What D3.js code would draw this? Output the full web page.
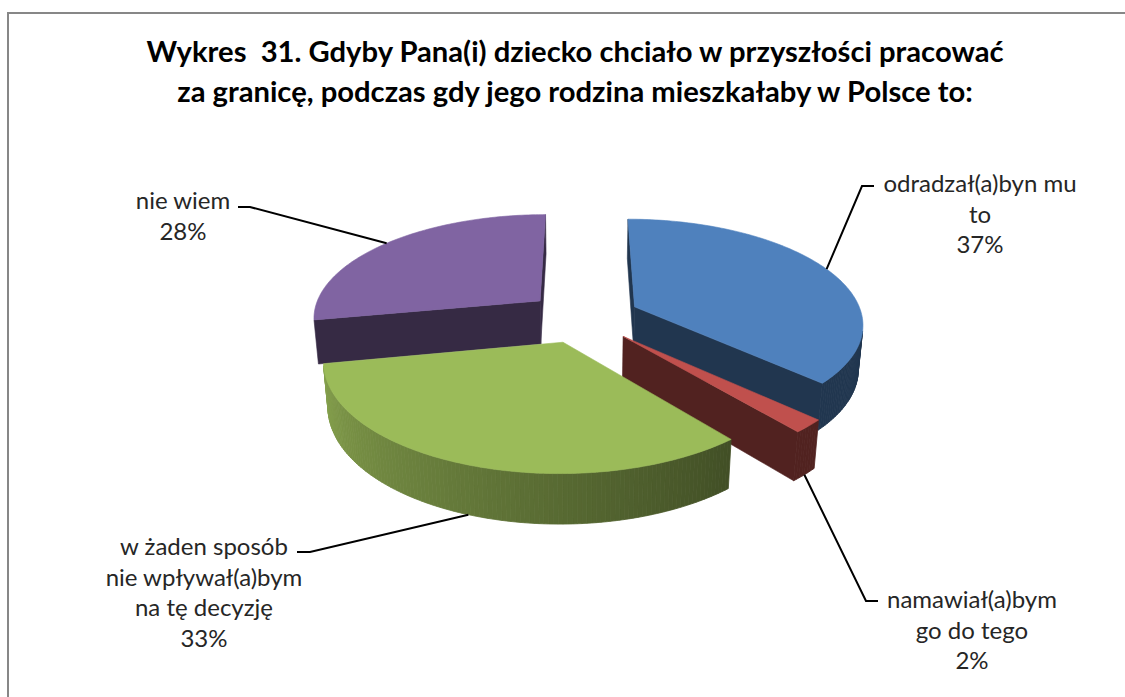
<!DOCTYPE html>
<html>
<head>
<meta charset="utf-8">
<script src="https://cdn.jsdelivr.net/npm/d3@7"></script>
<style>
  body { margin: 0; background: #fff; }
  svg { display: block; }
  text { font-family: Lato, "Open Sans", sans-serif; }
</style>
</head>
<body>
<svg id="chart" width="1125" height="697"></svg>
<script>
// data
const categories = ["odradzał(a)byn mu to", "namawiał(a)bym go do tego", "w żaden sposób nie wpływał(a)bym na tę decyzję", "nie wiem"];
const labelLines = [["odradzał(a)byn mu", "to"], ["namawiał(a)bym", "go do tego"], ["w żaden sposób", "nie wpływał(a)bym", "na tę decyzję"], ["nie wiem"]];
const values = [37, 2, 33, 28];
const colors = ["#4f81bd", "#c0504d", "#9bbb59", "#8064a2"];
const titleLines = ["Wykres  31. Gdyby Pana(i) dziecko chciało w przyszłości pracować", "za granicę, podczas gdy jego rodzina mieszkałaby w Polsce to:"];

const svg = d3.select("#chart");

// frame
svg.append("rect")
  .attr("x", 8).attr("y", 13)
  .attr("width", 1130).attr("height", 700)
  .attr("fill", "none")
  .attr("stroke", "#878787")
  .attr("stroke-width", 2);

// title
svg.append("g").selectAll("text")
  .data(titleLines)
  .enter()
  .append("text")
  .attr("x", 575)
  .attr("y", (d, i) => 52 + i * 40)
  .attr("dy", "0.35em")
  .attr("text-anchor", "middle")
  .style("white-space", "pre")
  .style("font-size", "29.2px")
  .style("font-weight", "bold")
  .attr("fill", "#000")
  .text(d => d);

// 3d pie: simple perspective projection
const alpha = 27 * Math.PI / 180;
const dist = 6;
const F = 228 * dist;
const depth = 0.22;
const explode = 0.25;
const cx = 583, cy = 317;
const cam = [0, dist * Math.sin(alpha), -dist * Math.cos(alpha)];

function proj(p) {
  const [x, y, z] = p;
  const Y = y * Math.cos(alpha) + z * Math.sin(alpha);
  const D = dist - y * Math.sin(alpha) + z * Math.cos(alpha);
  return [cx + F * x / D, cy - F * Y / D];
}
function visible(p, n) {
  return (cam[0] - p[0]) * n[0] + (cam[1] - p[1]) * n[1] + (cam[2] - p[2]) * n[2] > 0;
}
function shade(base, k) {
  const c = d3.rgb(base);
  return d3.rgb(c.r * k, c.g * k, c.b * k).formatHex();
}
function sideShade(a) {
  const deg = a * 180 / Math.PI;
  const t = Math.max(0, Math.min(1, (deg - 140) / 125));
  return 0.42 + 0.46 * t;
}

const arcs = d3.pie().sort(null).value(d => d)(values);
const line = d3.line();

const slices = arcs.map((a, i) => {
  const mid = (a.startAngle + a.endAngle) / 2;
  const ox = explode * Math.sin(mid), oz = explode * Math.cos(mid);
  const pt = (ang, r, y) => [ox + r * Math.sin(ang), y, oz + r * Math.cos(ang)];
  return { a, i, mid, ox, oz, pt, order: oz + 0.5 * Math.cos(mid) };
});

const pie = svg.append("g");
slices.slice().sort((p, q) => q.order - p.order).forEach(s => {
  const g = pie.append("g");
  const { a, pt } = s;
  const base = colors[s.i];
  const a0 = a.startAngle, a1 = a.endAngle;

  // cut faces
  const faces = [
    { ang: a0, n: [-Math.cos(a0), 0, Math.sin(a0)] },
    { ang: a1, n: [Math.cos(a1), 0, -Math.sin(a1)] }
  ];
  faces.forEach(f => {
    const quad = [pt(f.ang, 0, 0), pt(f.ang, 1, 0), pt(f.ang, 1, -depth), pt(f.ang, 0, -depth)];
    if (visible(quad[1], f.n)) {
      g.append("path")
        .attr("d", line(quad.map(proj)) + "Z")
        .attr("fill", shade(base, 0.42))
        .attr("stroke", shade(base, 0.42))
        .attr("stroke-width", 0.6);
    }
  });

  // outer wall, small steps
  const steps = Math.max(2, Math.ceil((a1 - a0) / (Math.PI / 180)));
  for (let k = 0; k < steps; k++) {
    const t0 = a0 + (a1 - a0) * k / steps, t1 = a0 + (a1 - a0) * (k + 1) / steps;
    const tm = (t0 + t1) / 2;
    const n = [Math.sin(tm), 0, Math.cos(tm)];
    if (!visible(pt(tm, 1, 0), n)) continue;
    const quad = [pt(t0, 1, 0), pt(t1, 1, 0), pt(t1, 1, -depth), pt(t0, 1, -depth)];
    const col = shade(base, sideShade(tm));
    g.append("path")
      .attr("d", line(quad.map(proj)) + "Z")
      .attr("fill", col)
      .attr("stroke", col)
      .attr("stroke-width", 0.8);
  }

  // top face
  const top = [pt(0, 0, 0)];
  const n = Math.max(2, Math.ceil((a1 - a0) / (Math.PI / 180)));
  for (let k = 0; k <= n; k++) top.push(pt(a0 + (a1 - a0) * k / n, 1, 0));
  g.append("path")
    .attr("d", line(top.map(proj)) + "Z")
    .attr("fill", base)
    .attr("stroke", base)
    .attr("stroke-width", 0.6);
});

// data labels with leader lines
const labelPos = [
  { x: 980, y: 184, elbow: [862, 186], end: [874, 186] },
  { x: 972, y: 600, elbow: [866, 601], end: [878, 601] },
  { x: 204, y: 547, elbow: [310, 552], end: [297, 552] },
  { x: 183, y: 201, elbow: [250, 207], end: [238, 207] }
];
const labels = svg.append("g");
slices.forEach(s => {
  const L = labelPos[s.i];
  const front = Math.cos(s.mid) < 0;
  const anchor = proj(s.pt(s.mid, 1, front ? -depth : 0));
  labels.append("path")
    .attr("d", line([anchor, L.elbow, L.end]))
    .attr("fill", "none")
    .attr("stroke", "#000")
    .attr("stroke-width", 2);
  const lines = labelLines[s.i].concat([values[s.i] + "%"]);
  labels.append("g").selectAll("text")
    .data(lines)
    .enter()
    .append("text")
    .attr("x", L.x)
    .attr("y", (d, j) => L.y + j * 30.5)
    .attr("dy", "0.35em")
    .attr("text-anchor", "middle")
    .style("font-size", "24px")
    .attr("fill", "#262626")
    .text(d => d);
});
</script>
</body>
</html>
